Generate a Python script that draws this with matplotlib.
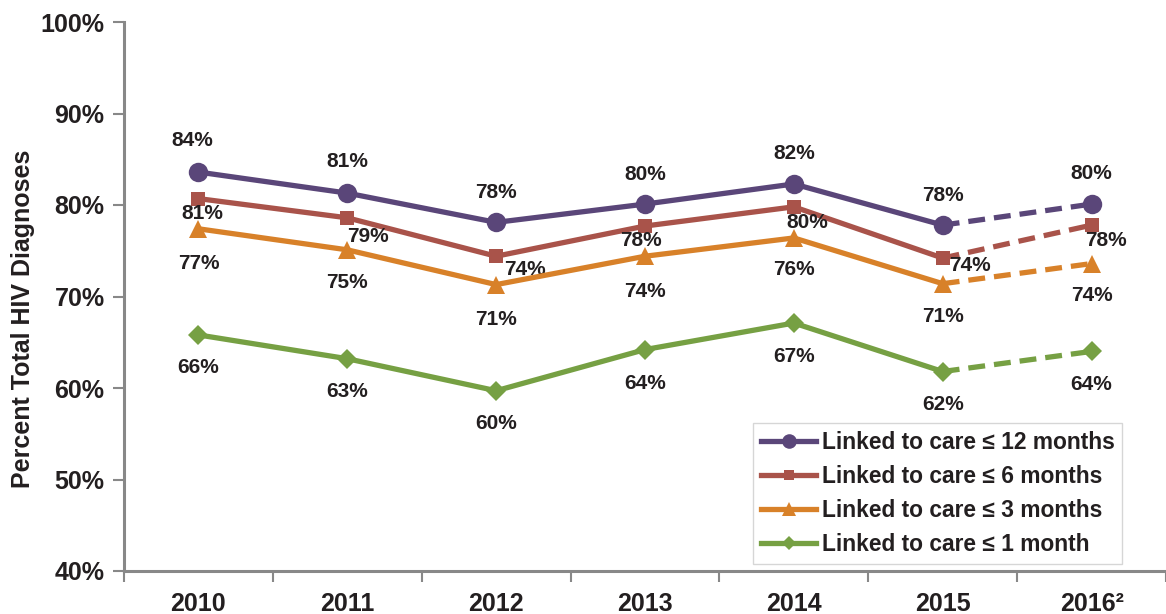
import numpy as np
import matplotlib.pyplot as plt
from matplotlib.lines import Line2D

plt.rcParams['font.family'] = ['Liberation Sans', 'DejaVu Sans']
plt.rcParams['font.weight'] = 'bold'

# data
years = ["2010", "2011", "2012", "2013", "2014", "2015", "2016\u00b2"]
care_12m = [83.6, 81.3, 78.1, 80.1, 82.3, 77.8, 80.1]
care_6m = [80.7, 78.6, 74.4, 77.7, 79.8, 74.2, 77.8]
care_3m = [77.4, 75.1, 71.3, 74.4, 76.4, 71.4, 73.6]
care_1m = [65.8, 63.2, 59.7, 64.2, 67.1, 61.8, 64.0]
names = ["Linked to care \u2264 12 months", "Linked to care \u2264 6 months",
         "Linked to care \u2264 3 months", "Linked to care \u2264 1 month"]

colors = ["#5A4679", "#A9534A", "#D88129", "#76A043"]
markers = ["o", "s", "^", "D"]
msizes = [14, 10.5, 13, 10]
# label offsets in pixels (dx, dy)
offs = [
    [(-6, 32), (0, 32), (0, 30), (0, 30), (0, 30), (0, 30), (0, 31)],
    [(4, -15), (21, -19), (29, -13), (-4, -14), (13, -16), (27, -7), (14, -15)],
    [(0, -35), (0, -33), (0, -35), (0, -35), (0, -32), (0, -33), (0, -32)],
    [(0, -33), (0, -33), (0, -33), (0, -34), (0, -33), (0, -33), (0, -33)],
]

fig = plt.figure(figsize=(11.66, 6.14), dpi=100)
ax = fig.add_axes([124/1166, 1-571/614, 1-124/1166, (571-22)/614])

x = np.arange(len(years))
series = [care_12m, care_6m, care_3m, care_1m]
handles = []
for i, vals in enumerate(series):
    c = colors[i]
    ax.plot(x[:6], vals[:6], color=c, lw=3.8, marker=markers[i], ms=msizes[i],
            markeredgewidth=0, zorder=3)
    ax.plot(x[5:], vals[5:], color=c, lw=3.8, ls=(0, (3.2, 1.7)), zorder=2)
    ax.plot(x[6:], vals[6:], color=c, lw=0, marker=markers[i], ms=msizes[i],
            markeredgewidth=0, zorder=3)
    for j, v in enumerate(vals):
        ax.annotate(f"{v:.0f}%", (x[j], v), xytext=offs[i][j], textcoords='offset pixels',
                    ha='center', va='center', fontsize=15, fontweight='bold', color='#231F20')
    handles.append(Line2D([], [], color=c, lw=3.8, marker=markers[i], ms=msizes[i]*0.75,
                          markeredgewidth=0))

ax.set_ylim(40, 100)
ax.set_xlim(-0.5, 6.447)
ax.set_yticks(np.arange(40, 101, 10))
ax.set_yticklabels([f"{t}%" for t in range(40, 101, 10)], fontsize=18, fontweight='bold', color='#231F20')
ax.set_xticks(np.arange(-0.5, 7, 1))
ax.set_xticklabels([])
ax.set_xticks(x, minor=True)
ax.set_xticklabels(years, minor=True, fontsize=18, fontweight='bold', color='#231F20')
ax.tick_params(axis='x', which='major', length=8, width=1.5, color='#888888', direction='out')
ax.tick_params(axis='x', which='minor', length=0, pad=15)
ax.tick_params(axis='y', length=8, width=1.5, color='#888888', pad=6)

for s in ['top', 'right']:
    ax.spines[s].set_visible(False)
for s in ['left', 'bottom']:
    ax.spines[s].set_color('#888888')
    ax.spines[s].set_linewidth(2.2)

ax.set_ylabel("Percent Total HIV Diagnoses", fontsize=18, fontweight='bold', color='#231F20')
ax.yaxis.set_label_coords(-0.085, 0.459)

leg = ax.legend(handles, names, loc='lower left', bbox_to_anchor=(0.604, 0.013),
                frameon=True, fancybox=False, edgecolor='#CCCCCC',
                handlelength=2.4, handletextpad=0.25, labelspacing=0.48, borderpad=0.35,
                borderaxespad=0, prop={'weight': 'bold', 'size': 16.4})
leg.get_frame().set_linewidth(1.0)
for t in leg.get_texts():
    t.set_color('#231F20')

fig.savefig("out.png", dpi=100)
